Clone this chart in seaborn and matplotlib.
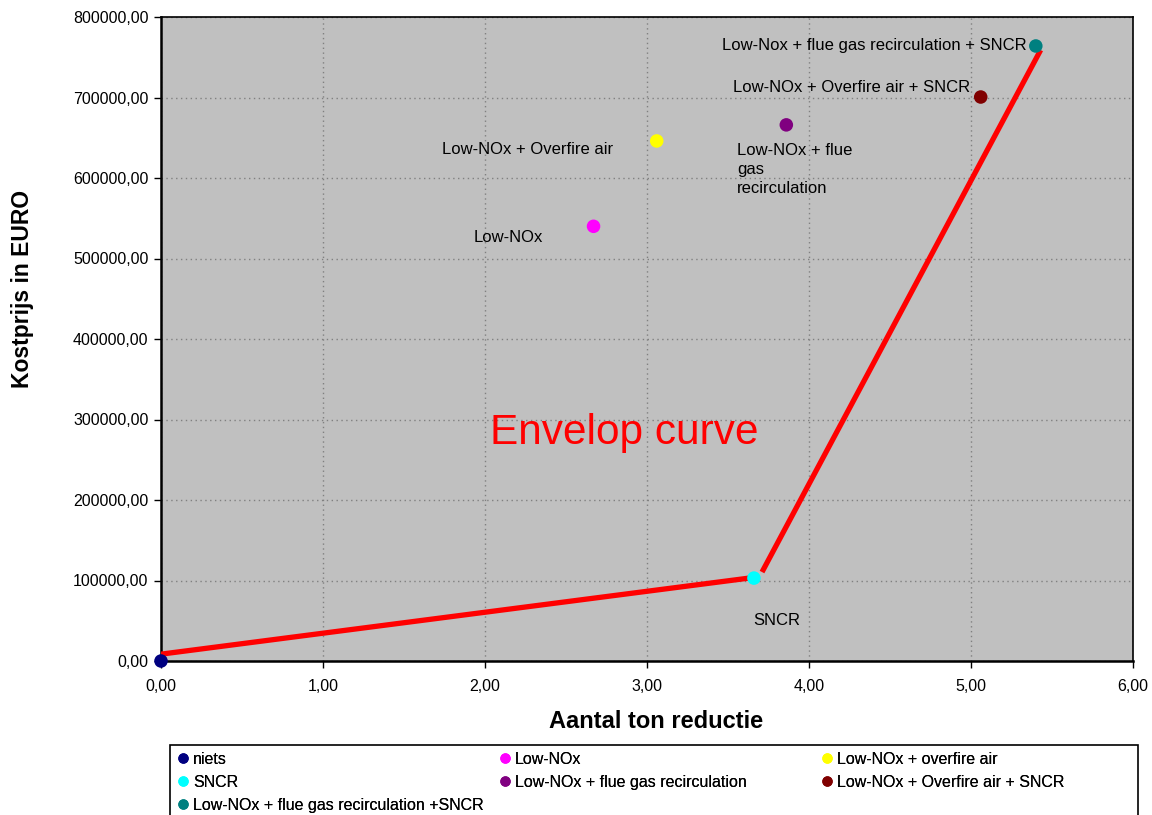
import numpy as np
import pandas as pd
import matplotlib
matplotlib.use("Agg")
import matplotlib.pyplot as plt
from matplotlib.patches import Rectangle
from matplotlib.ticker import FuncFormatter, MultipleLocator
import seaborn as sns

# Emission reduction options: tonnes of reduction vs. cost
options = ["niets", "Low-NOx", "Low-NOx + overfire air", "SNCR",
           "Low-NOx + flue gas recirculation", "Low-NOx + Overfire air + SNCR",
           "Low-NOx + flue gas recirculation +SNCR"]
reduction = [0.00, 2.67, 3.06, 3.66, 3.86, 5.06, 5.40]
cost = [0, 540000, 646000, 103000, 666000, 700600, 764000]
colors = ["#000080", "#FF00FF", "#FFFF00", "#00FFFF", "#800080", "#800000", "#008080"]

# Point annotations
annot_text = ["Low-Nox + flue gas recirculation + SNCR", "Low-NOx + Overfire air + SNCR",
              "Low-NOx + flue\ngas\nrecirculation", "Low-NOx + Overfire air",
              "Low-NOx", "SNCR"]
annot_x = [5.346, 4.994, 3.556, 2.79, 2.358, 3.654]
annot_y = [764000, 713000, 643000, 634800, 525500, 49700]
annot_ha = ["right", "right", "left", "right", "right", "left"]
annot_va = ["center", "center", "top", "center", "center", "center"]

# Envelope curve (two segments)
env_x = [0.00, 3.63, np.nan, 3.71, 5.43]
env_y = [8500, 103000, np.nan, 110500, 759000]

df = pd.DataFrame({"option": options, "reduction": reduction, "cost": cost})

sns.set_style("ticks")
plt.rcParams["font.family"] = ["Liberation Sans", "DejaVu Sans"]
plt.rcParams.update({"text.color": "#000000", "axes.labelcolor": "#000000",
                     "xtick.color": "#000000", "ytick.color": "#000000"})

fig = plt.figure(figsize=(11.52, 8.15), dpi=100)
ax = fig.add_axes([161 / 1152, 1 - 661 / 815, (1133 - 161) / 1152, (661 - 17) / 815])
ax.set_facecolor("#C0C0C0")

ax.plot(env_x, env_y, color="#FF0000", lw=3.8, solid_capstyle="butt", zorder=3)

sns.scatterplot(data=df, x="reduction", y="cost", hue="option", hue_order=options,
                palette=colors, s=95, edgecolor="none", ax=ax, zorder=4,
                clip_on=False, legend=False)

for t, x, y, ha, va in zip(annot_text, annot_x, annot_y, annot_ha, annot_va):
    ax.text(x, y, t, ha=ha, va=va, fontsize=12, color="#000000", zorder=5,
            linespacing=1.33)

ax.text(2.86, 283000, "Envelop curve", color="#FF0000", fontsize=30.5,
        ha="center", va="center", zorder=5)

ax.set_xlim(0, 6)
ax.set_ylim(0, 800000)
ax.xaxis.set_major_locator(MultipleLocator(1))
ax.yaxis.set_major_locator(MultipleLocator(100000))
fmt = FuncFormatter(lambda v, p: f"{v:.2f}".replace(".", ","))
ax.xaxis.set_major_formatter(fmt)
ax.yaxis.set_major_formatter(fmt)
ax.tick_params(axis="both", labelsize=11.5, length=5, width=1, color="#000000",
               labelcolor="#000000", direction="out", pad=4)
ax.tick_params(axis="x", pad=8)
ax.grid(True, color="#808080", linestyle=(0, (1, 2.5)), linewidth=1)
for side in ["left", "bottom"]:
    ax.spines[side].set_linewidth(1.8)
for side in ["top", "right"]:
    ax.spines[side].set_linewidth(1.2)
for sp in ax.spines.values():
    sp.set_color("#000000")
    sp.set_visible(True)

ax.set_xlabel("Aantal ton reductie", fontsize=17, fontweight="bold", color="#000000")
ax.set_ylabel("Kostprijs in EURO", fontsize=16.5, fontweight="bold", color="#000000")
ax.xaxis.set_label_coords(0.509, -0.076)
ax.yaxis.set_label_coords(-0.131, 0.578)

# Legend: three columns, filled row by row, inside one frame
handles = [plt.Line2D([], [], marker="o", linestyle="none", markersize=7.5,
                      markerfacecolor=c, markeredgecolor="none") for c in colors]
columns = [[0, 3, 6], [1, 4], [2, 5]]
col_x = [177, 499, 821]
for idx, cx in zip(columns, col_x):
    lg = fig.legend([handles[i] for i in idx], [options[i] for i in idx],
                    loc="upper left", bbox_to_anchor=(cx / 1152, 1 - 752 / 815),
                    fontsize=11.5, frameon=False, handlelength=0.8,
                    handletextpad=0.2, borderpad=0, borderaxespad=0,
                    labelspacing=0.5, labelcolor="#000000")
    fig.add_artist(lg)
fig.add_artist(Rectangle((170 / 1152, -0.02), (1138 - 170) / 1152, 0.02 + (815 - 745) / 815,
                         transform=fig.transFigure, fill=False, edgecolor="#000000",
                         linewidth=1.2))

fig.savefig("out.png", dpi=100, facecolor="white")
